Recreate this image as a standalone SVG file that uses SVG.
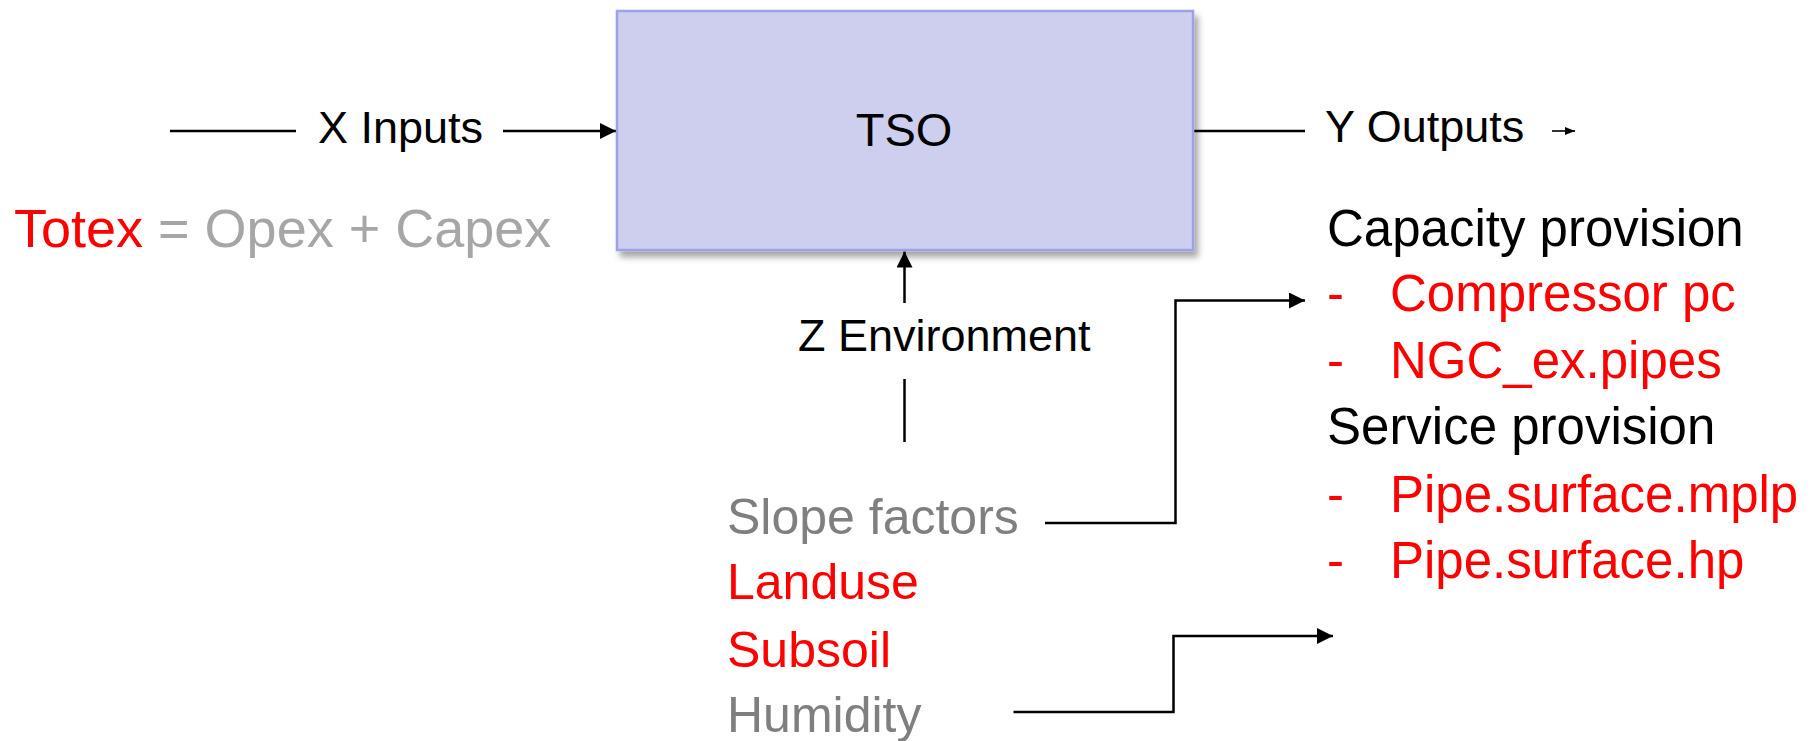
<svg xmlns="http://www.w3.org/2000/svg" width="1813" height="741" viewBox="0 0 1813 741">
<style>
text{font-family:"Liberation Sans",Arial,sans-serif;}
.blk{fill:#000000;}
.red{fill:#FF0000;}
.lg{fill:#A6A6A6;}
.dg{fill:#7F7F7F;}
.lbl{font-size:45px;}
.big{font-size:51px;}
.env{font-size:50px;}
.conn{fill:none;stroke:#000000;stroke-width:2.5;}
.thin{fill:none;stroke:#000000;stroke-width:1.6;}
</style>
<defs>
<marker id="ah" markerUnits="userSpaceOnUse" markerWidth="16" markerHeight="16" refX="16" refY="8" orient="auto">
<path d="M0,0 L16,8 L0,16 z" fill="#000000"/>
</marker>
<marker id="ahs" markerUnits="userSpaceOnUse" markerWidth="10" markerHeight="8" refX="10" refY="4" orient="auto">
<path d="M0,0 L10,4 L0,8 z" fill="#000000"/>
</marker>
<filter id="sh" x="-5%" y="-5%" width="115%" height="120%">
<feDropShadow dx="4" dy="6" stdDeviation="3" flood-color="#000000" flood-opacity="0.35"/>
</filter>
</defs>
<g id="connectors">
<line class="conn" x1="170" y1="131" x2="296" y2="131"/>
<line class="conn" x1="503" y1="131" x2="616" y2="131" marker-end="url(#ah)"/>
<line class="conn" x1="1193" y1="131" x2="1305" y2="131"/>
<line class="thin" x1="1552" y1="131" x2="1575" y2="131" marker-end="url(#ahs)"/>
<line class="conn" x1="904.5" y1="303" x2="904.5" y2="251.5" marker-end="url(#ah)"/>
<line class="conn" x1="904.5" y1="379" x2="904.5" y2="442"/>
<polyline class="conn" points="1045,523 1175.5,523 1175.5,300.5 1305,300.5" marker-end="url(#ah)"/>
<polyline class="conn" points="1013.5,712 1173.5,712 1173.5,636 1333,636" marker-end="url(#ah)"/>
</g>
<g id="tso">
<rect x="617" y="11" width="576" height="239" fill="#CECFEE" stroke="#9EA1E3" stroke-width="2.5" filter="url(#sh)"/>
<text class="blk" x="904" y="146" font-size="47" text-anchor="middle">TSO</text>
</g>
<g id="x-inputs">
<text class="blk lbl" x="318" y="143">X Inputs</text>
</g>
<g id="totex">
<text x="14" y="247" font-size="54"><tspan class="red">Totex</tspan><tspan class="lg"> = Opex + Capex</tspan></text>
</g>
<g id="y-outputs">
<text class="blk lbl" x="1325" y="142">Y Outputs</text>
</g>
<g id="outputs-list">
<text class="blk big" x="1327" y="246">Capacity provision</text>
<text class="red big" x="1327" y="311">-</text>
<text class="red big" x="1390" y="311">Compressor pc</text>
<text class="red big" x="1327" y="378">-</text>
<text class="red big" x="1390" y="378">NGC_ex.pipes</text>
<text class="blk big" x="1327" y="444">Service provision</text>
<text class="red big" x="1327" y="512">-</text>
<text class="red big" x="1390" y="512">Pipe.surface.mplp</text>
<text class="red big" x="1327" y="578">-</text>
<text class="red big" x="1390" y="578">Pipe.surface.hp</text>
</g>
<g id="z-environment">
<text class="blk lbl" x="798" y="351">Z Environment</text>
</g>
<g id="environment-list">
<text class="dg env" x="727" y="534">Slope factors</text>
<text class="red env" x="727" y="599">Landuse</text>
<text class="red env" x="727" y="667">Subsoil</text>
<text class="dg env" x="727" y="732">Humidity</text>
</g>
</svg>
